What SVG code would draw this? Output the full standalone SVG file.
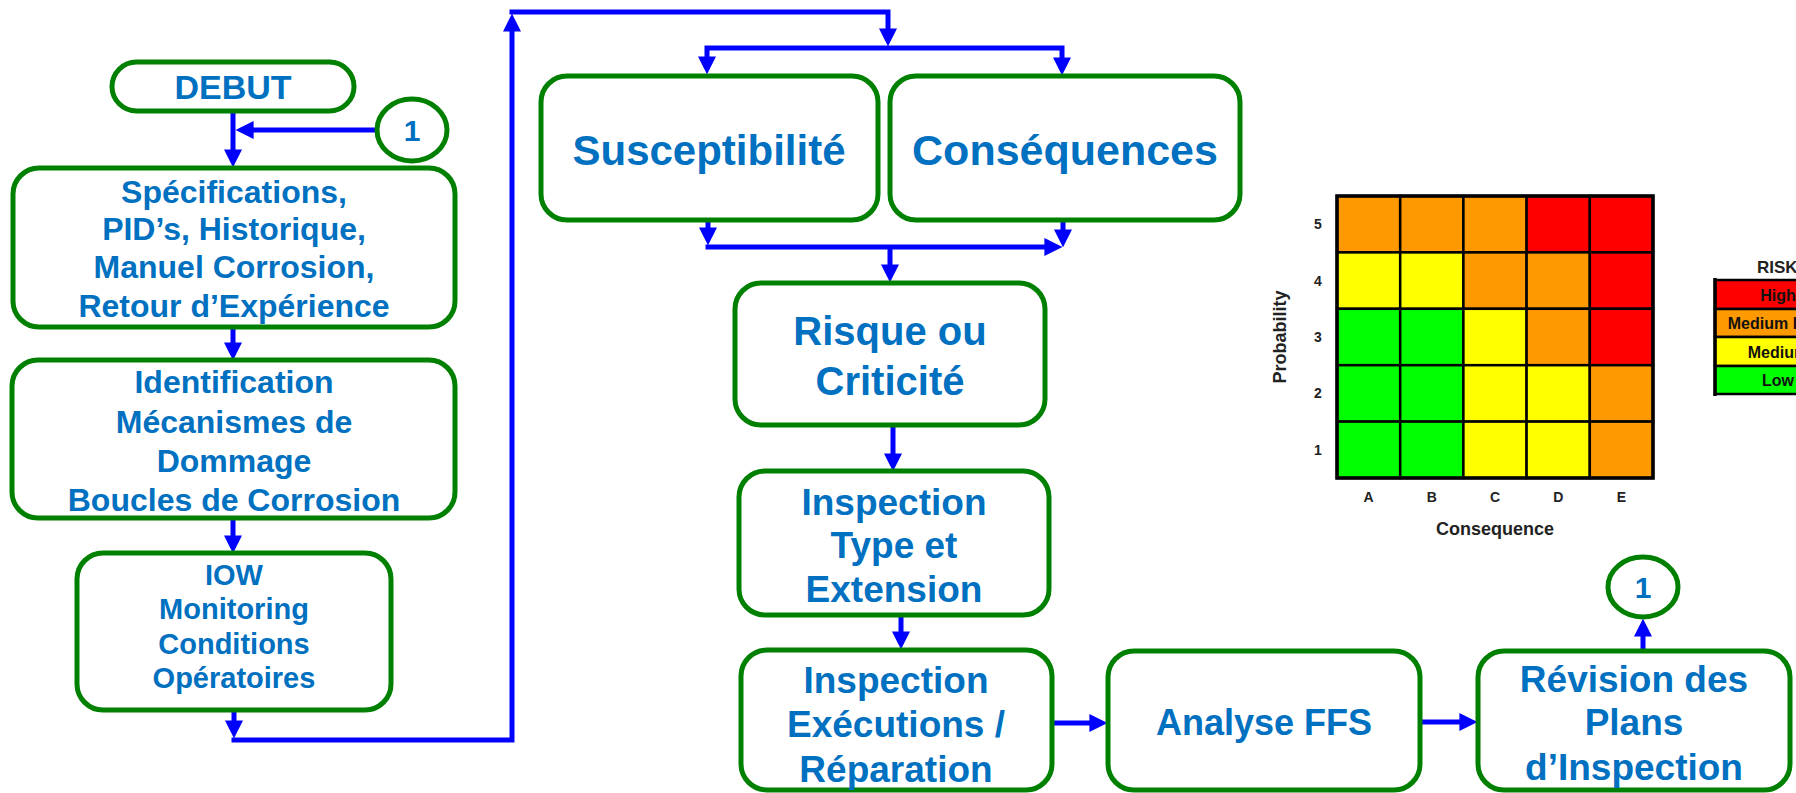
<svg xmlns="http://www.w3.org/2000/svg" width="1796" height="793" viewBox="0 0 1796 793">
<style>
.box{fill:#fff;stroke:#008000;stroke-width:5}
.t{font-family:"Liberation Sans",Arial,sans-serif;font-weight:bold;fill:#0070C0;text-anchor:middle}
.c{fill:none;stroke:#0000FF;stroke-width:5}
.cell{stroke:#000;stroke-width:2.5}
.m{font-family:"Liberation Sans",Arial,sans-serif;font-weight:bold;fill:#222;text-anchor:middle}
.o{fill:#FF9900}.r{fill:#FF0000}.y{fill:#FFFF00}.g{fill:#00FF00}
</style>
<defs>
<marker id="ah" viewBox="0 0 10 10" refX="7" refY="5" markerWidth="3.6" markerHeight="3.6" orient="auto-start-reverse">
<path d="M0,0 L10,5 L0,10 z" fill="#0000FF"/>
</marker>
</defs>

<g id="connectors">
<path class="c" d="M233,111 V162" marker-end="url(#ah)"/>
<path class="c" d="M377,130 H241" marker-end="url(#ah)"/>
<path class="c" d="M233,327 V355" marker-end="url(#ah)"/>
<path class="c" d="M233,518 V548" marker-end="url(#ah)"/>
<path class="c" d="M234,710 V733" marker-end="url(#ah)"/>
<path class="c" d="M231.5,740 H512 V19" marker-end="url(#ah)"/>
<path class="c" d="M509.5,12 H888 V41" marker-end="url(#ah)"/>
<path class="c" d="M707,69 V48 H1062 V70" marker-start="url(#ah)" marker-end="url(#ah)"/>
<path class="c" d="M708,220 V240" marker-end="url(#ah)"/>
<path class="c" d="M1063,220 V242" marker-end="url(#ah)"/>
<path class="c" d="M705.5,247 H1057" marker-end="url(#ah)"/>
<path class="c" d="M890,247 V277" marker-end="url(#ah)"/>
<path class="c" d="M893,425 V466" marker-end="url(#ah)"/>
<path class="c" d="M901,615 V644" marker-end="url(#ah)"/>
<path class="c" d="M1052,723 H1102" marker-end="url(#ah)"/>
<path class="c" d="M1420,722 H1472" marker-end="url(#ah)"/>
<path class="c" d="M1643,651 V624" marker-end="url(#ah)"/>
</g>

<g id="debut">
<rect class="box" x="112" y="62" width="242" height="49" rx="24.5"/>
<text class="t" x="233" y="99" font-size="34">DEBUT</text>
</g>

<g id="conn1-top">
<ellipse class="box" cx="412" cy="130" rx="35" ry="31"/>
<text class="t" x="412" y="141" font-size="30">1</text>
</g>

<g id="specifications">
<rect class="box" x="13" y="168" width="442" height="159" rx="26"/>
<text class="t" font-size="32"><tspan x="234" y="203">Spécifications,</tspan><tspan x="234" y="240">PID’s, Historique,</tspan><tspan x="234" y="278">Manuel Corrosion,</tspan><tspan x="234" y="317">Retour d’Expérience</tspan></text>
</g>

<g id="identification">
<rect class="box" x="12" y="360" width="443" height="158" rx="26"/>
<text class="t" font-size="32"><tspan x="234" y="393">Identification</tspan><tspan x="234" y="433">Mécanismes de</tspan><tspan x="234" y="472">Dommage</tspan><tspan x="234" y="511">Boucles de Corrosion</tspan></text>
</g>

<g id="iow">
<rect class="box" x="77" y="553" width="314" height="157" rx="26"/>
<text class="t" font-size="29"><tspan x="234" y="585">IOW</tspan><tspan x="234" y="619">Monitoring</tspan><tspan x="234" y="654">Conditions</tspan><tspan x="234" y="688">Opératoires</tspan></text>
</g>

<g id="susceptibilite">
<rect class="box" x="541" y="76" width="337" height="144" rx="26"/>
<text class="t" x="709" y="165" font-size="42">Susceptibilité</text>
</g>

<g id="consequences">
<rect class="box" x="890" y="76" width="350" height="144" rx="26"/>
<text class="t" x="1065" y="165" font-size="43">Conséquences</text>
</g>

<g id="risque">
<rect class="box" x="735" y="283" width="310" height="142" rx="26"/>
<text class="t" font-size="40"><tspan x="890" y="345">Risque ou</tspan><tspan x="890" y="395">Criticité</tspan></text>
</g>

<g id="inspection-type">
<rect class="box" x="739" y="471" width="310" height="144" rx="26"/>
<text class="t" font-size="37"><tspan x="894" y="515">Inspection</tspan><tspan x="894" y="558">Type et</tspan><tspan x="894" y="602">Extension</tspan></text>
</g>

<g id="inspection-execution">
<rect class="box" x="741" y="650" width="311" height="140" rx="26"/>
<text class="t" font-size="37"><tspan x="896" y="693">Inspection</tspan><tspan x="896" y="737">Exécutions /</tspan><tspan x="896" y="782">Réparation</tspan></text>
</g>

<g id="analyse-ffs">
<rect class="box" x="1108" y="651" width="312" height="139" rx="26"/>
<text class="t" x="1264" y="735" font-size="36">Analyse FFS</text>
</g>

<g id="revision">
<rect class="box" x="1478" y="651" width="312" height="139" rx="26"/>
<text class="t" font-size="37"><tspan x="1634" y="692">Révision des</tspan><tspan x="1634" y="735">Plans</tspan><tspan x="1634" y="780">d’Inspection</tspan></text>
</g>

<g id="conn1-bottom">
<ellipse class="box" cx="1643" cy="587" rx="35" ry="30"/>
<text class="t" x="1643" y="598" font-size="30">1</text>
</g>

<g id="risk-matrix">
<rect class="cell o" x="1337" y="196" width="63.2" height="56.4"/>
<rect class="cell o" x="1400.2" y="196" width="63.2" height="56.4"/>
<rect class="cell o" x="1463.4" y="196" width="63.2" height="56.4"/>
<rect class="cell r" x="1526.6" y="196" width="63.2" height="56.4"/>
<rect class="cell r" x="1589.8" y="196" width="63.2" height="56.4"/>
<rect class="cell y" x="1337" y="252.4" width="63.2" height="56.4"/>
<rect class="cell y" x="1400.2" y="252.4" width="63.2" height="56.4"/>
<rect class="cell o" x="1463.4" y="252.4" width="63.2" height="56.4"/>
<rect class="cell o" x="1526.6" y="252.4" width="63.2" height="56.4"/>
<rect class="cell r" x="1589.8" y="252.4" width="63.2" height="56.4"/>
<rect class="cell g" x="1337" y="308.8" width="63.2" height="56.4"/>
<rect class="cell g" x="1400.2" y="308.8" width="63.2" height="56.4"/>
<rect class="cell y" x="1463.4" y="308.8" width="63.2" height="56.4"/>
<rect class="cell o" x="1526.6" y="308.8" width="63.2" height="56.4"/>
<rect class="cell r" x="1589.8" y="308.8" width="63.2" height="56.4"/>
<rect class="cell g" x="1337" y="365.2" width="63.2" height="56.4"/>
<rect class="cell g" x="1400.2" y="365.2" width="63.2" height="56.4"/>
<rect class="cell y" x="1463.4" y="365.2" width="63.2" height="56.4"/>
<rect class="cell y" x="1526.6" y="365.2" width="63.2" height="56.4"/>
<rect class="cell o" x="1589.8" y="365.2" width="63.2" height="56.4"/>
<rect class="cell g" x="1337" y="421.6" width="63.2" height="56.4"/>
<rect class="cell g" x="1400.2" y="421.6" width="63.2" height="56.4"/>
<rect class="cell y" x="1463.4" y="421.6" width="63.2" height="56.4"/>
<rect class="cell y" x="1526.6" y="421.6" width="63.2" height="56.4"/>
<rect class="cell o" x="1589.8" y="421.6" width="63.2" height="56.4"/>
<rect x="1337" y="196" width="316" height="282" fill="none" stroke="#000" stroke-width="3.5"/>
<g class="m" font-size="14">
<text x="1318" y="229">5</text>
<text x="1318" y="286">4</text>
<text x="1318" y="342">3</text>
<text x="1318" y="398">2</text>
<text x="1318" y="455">1</text>
<text x="1368.6" y="502">A</text>
<text x="1431.8" y="502">B</text>
<text x="1495" y="502">C</text>
<text x="1558.2" y="502">D</text>
<text x="1621.4" y="502">E</text>
</g>
<text class="m" x="1495" y="535" font-size="18">Consequence</text>
<text class="m" x="0" y="0" font-size="18" transform="translate(1286,337) rotate(-90)">Probability</text>
</g>

<g id="risk-legend">
<text class="m" x="1757" y="273" font-size="17" style="text-anchor:start">RISK</text>
<rect class="cell r" x="1715" y="280" width="160" height="29"/>
<rect class="cell o" x="1715" y="309" width="160" height="28"/>
<rect class="cell y" x="1715" y="337" width="160" height="29"/>
<rect class="cell g" x="1715" y="366" width="160" height="28"/>
<line x1="1715" y1="278" x2="1715" y2="396" stroke="#000" stroke-width="3.5"/>
<g class="m" font-size="16" style="fill:#111">
<text x="1778" y="301">High</text>
<text x="1778" y="329">Medium High</text>
<text x="1778" y="358">Medium</text>
<text x="1778" y="386">Low</text>
</g>
</g>
</svg>
